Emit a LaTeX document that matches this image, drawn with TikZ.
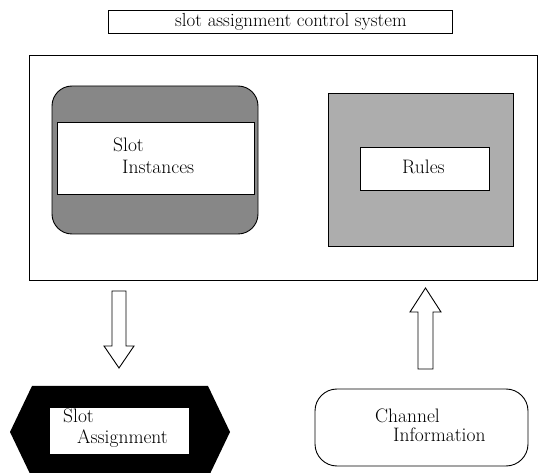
\documentclass[tikz,border=0pt]{standalone}
\usetikzlibrary{calc}
\begin{document}
\begin{tikzpicture}[x=1pt,y=-1pt,
  lbl/.style={font=\fontsize{19.5}{23}\selectfont, inner sep=0pt, anchor=base west},
  ttl/.style={font=\fontsize{18.9}{22}\selectfont, inner sep=0pt, anchor=base west},
  frm/.style={draw, line width=0.9pt, inner sep=0pt, outer sep=0pt},
  blk/.style={draw, line width=0.9pt, fill=white, line join=miter}]
\useasboundingbox (0,0) rectangle (539,473);
\clip (0,0) rectangle (539,473);
% title
\node[frm, minimum width=344pt, minimum height=23pt] (title) at (280,21.5) {};
\node[ttl] (titletext) at (175,27) {slot assignment control system};
% big frame
\node[frm, minimum width=508pt, minimum height=225pt] (sys) at (283,167.5) {};
% slot instances
\node[frm, fill=black!47, rounded corners=20pt, minimum width=206pt, minimum height=148pt] (siout) at (155,160) {};
\node[frm, fill=white, minimum width=197pt, minimum height=72pt] (si) at (155.5,158) {};
\node[lbl] (si1) at (113,152) {Slot};
\node[lbl] (si2) at (122,174) {Instances};
% rules
\node[frm, fill=black!32, minimum width=185pt, minimum height=153pt] (rout) at (420.5,169.5) {};
\node[frm, fill=white, minimum width=129pt, minimum height=43pt] (rules) at (424.5,168.5) {};
\node[lbl] (r1) at (402,174) {Rules};
% slot assignment hexagon
\coordinate (hexc) at (120,432);
\fill[black] ($(hexc)+(-88,-46)$) -- ($(hexc)+(88,-46)$) -- ($(hexc)+(110,0)$) -- ($(hexc)+(88,46)$) -- ($(hexc)+(-88,46)$) -- ($(hexc)+(-110,0)$) -- cycle;
\node[frm, fill=white, draw=white, minimum width=138pt, minimum height=45pt] (sa) at (119,430.5) {};
\node[lbl] (sa1) at (63,423) {Slot};
\node[lbl] (sa2) at (77,444) {Assignment};
% channel information
\node[frm, rounded corners=22pt, minimum width=213pt, minimum height=77pt] (ci) at (421.5,427.5) {};
\node[lbl] (ci1) at (375,423) {Channel};
\node[lbl] (ci2) at (393,442) {Information};
% block arrows
\coordinate (dA) at ($(sys.south -| 119,0)+(0,11)$);
\coordinate (dB) at ($(hexc)+(-1,-64)$);
\draw[blk] ($(dA)+(-7,0)$) -- ($(dA)+(7,0)$) -- ($(dB)+(7,-22)$) -- ($(dB)+(15,-22)$) -- (dB) -- ($(dB)+(-15,-22)$) -- ($(dB)+(-7,-22)$) -- cycle;
\coordinate (uA) at ($(ci.north -| 425.5,0)+(0,-20)$);
\coordinate (uB) at ($(sys.south -| 425.5,0)+(0,8)$);
\draw[blk] ($(uA)+(-7.5,0)$) -- ($(uA)+(7.5,0)$) -- ($(uB)+(7.5,24)$) -- ($(uB)+(15.5,24)$) -- (uB) -- ($(uB)+(-15.5,24)$) -- ($(uB)+(-7.5,24)$) -- cycle;
\end{tikzpicture}
\end{document}
